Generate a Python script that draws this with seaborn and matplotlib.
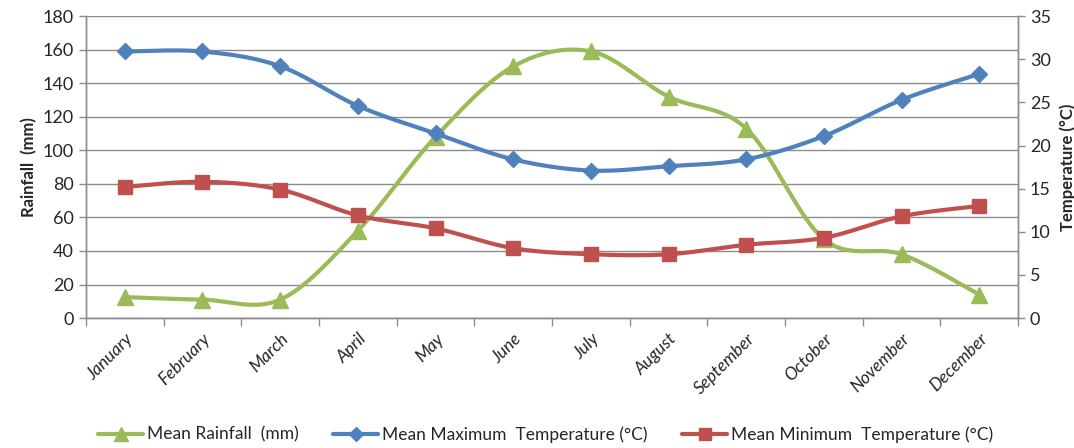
import numpy as np
import pandas as pd
import matplotlib
matplotlib.use("Agg")
import matplotlib.pyplot as plt
import seaborn as sns
from matplotlib.lines import Line2D

months = ["January", "February", "March", "April", "May", "June", "July",
          "August", "September", "October", "November", "December"]
rainfall = [12.5, 11, 11, 52, 108, 150, 159, 132, 113, 47, 38, 14]
max_temp = [30.9, 30.9, 29.2, 24.6, 21.4, 18.4, 17.1, 17.6, 18.4, 21.1, 25.3, 28.3]
min_temp = [15.2, 15.8, 14.9, 11.9, 10.4, 8.1, 7.4, 7.4, 8.5, 9.3, 11.8, 13.0]

GREEN = "#9BBB59"
BLUE = "#4F81BD"
RED = "#C0504D"
GRID = "#8C8C8C"

sns.set_theme(style="white")
plt.rcParams["font.family"] = ["Lato", "DejaVu Sans"]


def smooth(y, n=30, tension=0.5):
    """Catmull-Rom style smoothing (like Excel smoothed lines)."""
    y = np.asarray(y, dtype=float)
    x = np.arange(len(y), dtype=float)
    xs, ys = [], []
    for i in range(len(y) - 1):
        p0 = (x[i - 1], y[i - 1]) if i > 0 else (x[i], y[i])
        p1 = (x[i], y[i])
        p2 = (x[i + 1], y[i + 1])
        p3 = (x[i + 2], y[i + 2]) if i + 2 < len(y) else (x[i + 1], y[i + 1])
        t = np.linspace(0, 1, n)
        m1 = [tension * (p2[k] - p0[k]) for k in range(2)]
        m2 = [tension * (p3[k] - p1[k]) for k in range(2)]
        h00 = 2 * t**3 - 3 * t**2 + 1
        h10 = t**3 - 2 * t**2 + t
        h01 = -2 * t**3 + 3 * t**2
        h11 = t**3 - t**2
        xs.append(h00 * p1[0] + h10 * m1[0] + h01 * p2[0] + h11 * m2[0])
        ys.append(h00 * p1[1] + h10 * m1[1] + h01 * p2[1] + h11 * m2[1])
    return np.concatenate(xs), np.concatenate(ys)


fig = plt.figure(figsize=(10.74, 4.48), dpi=100)
ax = fig.add_axes([0.080, 0.290, 0.868, 0.674])
ax2 = ax.twinx()

pos = np.arange(len(months))

# Rainfall on left axis (drawn beneath the temperature series)
sx, sy = smooth(rainfall)
sns.lineplot(x=sx, y=sy, ax=ax, color=GREEN, lw=3, sort=False, zorder=3)
ax.plot(pos, rainfall, ls="none", marker="^", ms=11, color=GREEN, zorder=4)

# temperatures on right axis
for data, col, mk, ms in [(max_temp, BLUE, "D", 8), (min_temp, RED, "s", 10)]:
    sx, sy = smooth(data)
    sns.lineplot(x=sx, y=sy, ax=ax2, color=col, lw=3, sort=False, zorder=3)
    ax2.plot(pos, data, ls="none", marker=mk, ms=ms, color=col, zorder=4)

ax.set_xlim(-0.5, 11.5)
ax.set_ylim(0, 180)
ax.set_yticks(np.arange(0, 181, 20))
ax2.set_ylim(0, 35)
ax2.set_yticks(np.arange(0, 36, 5))

ax.yaxis.grid(True, color=GRID, lw=1)
ax.set_axisbelow(True)
ax2.grid(False)

ax.set_xticks(pos)
ax.set_xticklabels(months, rotation=45, ha="right", rotation_mode="anchor",
                   style="italic", fontsize=12.5)
ax.set_xticks(np.arange(-0.5, 12, 1), minor=True)
ax.tick_params(axis="x", which="major", length=0, pad=9)
ax.tick_params(axis="x", which="minor", length=6, color=GRID, direction="out", width=1)
ax.tick_params(axis="y", labelsize=13, length=5, color=GRID, direction="out", width=1)
ax2.tick_params(axis="y", labelsize=13, length=5, color=GRID, direction="out", width=1)
ax.xaxis.set_tick_params(bottom=True, which="minor")

for a in (ax, ax2):
    a.spines["top"].set_visible(False)
    for s in ["left", "right", "bottom"]:
        a.spines[s].set_color(GRID)
        a.spines[s].set_linewidth(1)

ax.set_ylabel("Rainfall  (mm)", fontsize=12, fontweight="bold", labelpad=4)
ax2.set_ylabel("Temperature (°C)", fontsize=12, fontweight="bold", labelpad=6)

handles = [
    Line2D([0], [0], color=GREEN, lw=3, marker="^", ms=10),
    Line2D([0], [0], color=BLUE, lw=3, marker="D", ms=7),
    Line2D([0], [0], color=RED, lw=3, marker="s", ms=9),
]
labels = ["Mean Rainfall  (mm)", "Mean Maximum  Temperature (°C)",
          "Mean Minimum  Temperature (°C)"]
fig.legend(handles, labels, loc="center", bbox_to_anchor=(0.508, 0.03), ncol=3,
           frameon=False, fontsize=12.5, handlelength=2.6, handletextpad=0.2,
           columnspacing=2.0)

fig.savefig("out.png", dpi=100)
